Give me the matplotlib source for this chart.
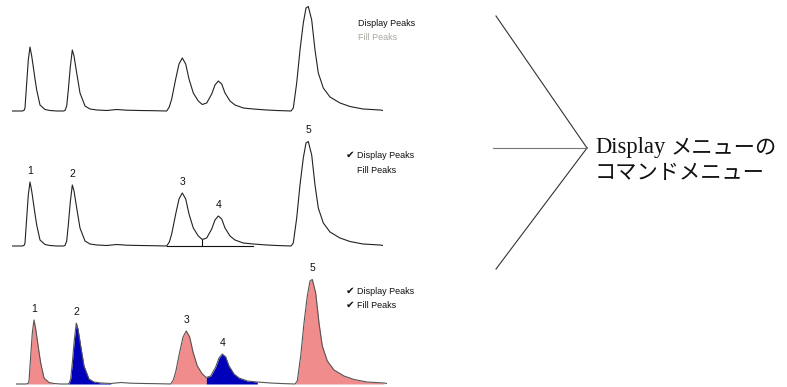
#!/usr/bin/env python3
"""
Chromatogram illustration: the three states of the Display menu
(no peaks, display peaks, display + fill peaks).
"""

import numpy as np
import matplotlib
matplotlib.use("Agg")
import matplotlib.pyplot as plt

# Trace (time in arbitrary units, signal in arbitrary units)
trace_time = [0.0, 1.0, 1.2, 1.3, 1.47, 1.63, 1.8, 1.97, 2.13, 2.3, 2.47, 2.8,
              3.3, 3.8, 4.47, 5.13, 5.3, 5.47, 5.63, 5.83, 6.03, 6.2, 6.47, 6.8,
              7.3, 7.8, 8.5, 9.47, 10.47, 11.47, 12.8, 14.13, 15.47, 15.73,
              15.97, 16.37, 16.7, 17.03, 17.37, 17.7, 18.13, 18.63, 19.03, 19.47,
              19.97, 20.3, 20.63, 20.97, 21.3, 21.8, 22.3, 23.13, 24.13, 25.47,
              26.47, 27.9, 28.13, 28.47, 28.8, 29.13, 29.4, 29.63, 29.97, 30.3,
              30.63, 31.13, 31.8, 32.8, 33.8, 35.1, 36.8, 37.13]
trace_signal = [0, 0, 0.5, 3, 28, 51, 64, 55, 44, 32, 21, 6,
                1.5, 0.5, 0, 0, 0.5, 5, 21, 44, 61, 55, 38, 18,
                5, 2, 1, 0.5, 1.5, 0.8, 0.5, 0.3, 0, 4,
                12, 32, 47, 53, 47, 32, 18, 10, 6.5, 8,
                17, 26, 30, 27, 18, 10, 6, 3, 2, 1,
                0.5, 0, 3, 28, 61, 88, 103, 104.5, 91, 61,
                38, 23, 14, 8, 4.5, 2, 1, 0.5]

# Peak table
peak_labels = ["1", "2", "3", "4", "5"]
peak_apex = [1.8, 6.03, 17.03, 20.63, 29.63]
peak_start = [1.0, 5.13, 15.47, 19.03, 27.9]
peak_end = [3.8, 9.47, 19.03, 24.13, 36.8]
peak_colors = ["#f08c8c", "#0000bb", "#f08c8c", "#0000bb", "#f08c8c"]
valley_time = 19.03

# Menu states for each panel: (display peaks checked, fill peaks checked)
menu_states = [(False, False), (True, False), (True, True)]

W, H = 787, 387
fig = plt.figure(figsize=(W / 100, H / 100), dpi=100)

t = np.array(trace_time)
s = np.array(trace_signal)


def px_axes(left, baseline, width=371, height=110):
    """Axes placed by pixel position, baseline = pixel row of signal 0"""
    bottom = baseline + 2
    ax = fig.add_axes([left / W, (H - bottom) / H, width / W, height / H])
    ax.set_xlim(0, 37.1)
    ax.set_ylim(-2, 108)
    ax.axis("off")
    return ax


# Panel layout (left px, baseline px, menu text y px, menu text x px)
panels = [(12, 111, (24, 38), 358),
          (12, 246, (155, 170), 357),
          (16, 384, (291, 305), 357)]

for i, (left, base, menu_y, menu_x) in enumerate(panels):
    ax = px_axes(left, base)
    show, fill = menu_states[i]
    line_color = "#555555" if fill else "#222222"

    if fill:
        for a, b, c in zip(peak_start, peak_end, peak_colors):
            m = (t >= a) & (t <= b)
            ax.fill_between(t[m], 0, s[m], color=c, linewidth=0)

    ax.plot(t, s, color=line_color, linewidth=0.8)

    if show:
        for lab, x0 in zip(peak_labels, peak_apex):
            y0 = s[np.argmin(np.abs(t - x0))]
            ax.annotate(lab, (x0, y0), xytext=(0, 4.5), textcoords="offset points",
                        ha="center", va="bottom", fontsize=7.5,
                        family="Liberation Sans", color="#111111")
    if show and not fill:
        yv = s[np.argmin(np.abs(t - valley_time))]
        ax.plot([valley_time, valley_time], [0, yv], color="#111111", linewidth=0.8)
        ax.plot([15.47, 24.13], [0, 0], color="#111111", linewidth=0.8)

    # menu items
    fig.text(menu_x / W, 1 - menu_y[0] / H, "Display Peaks", fontsize=6.5,
             family="Liberation Sans", va="center", color="#111111")
    fig.text(menu_x / W, 1 - menu_y[1] / H, "Fill Peaks", fontsize=6.5,
             family="Liberation Sans", va="center",
             color="#111111" if show else "#a8a8a0")
    if show:
        fig.text(346 / W, 1 - menu_y[0] / H, "\u2714", fontsize=7.5,
                 family="DejaVu Sans", va="center", color="#111111")
    if fill:
        fig.text(346 / W, 1 - menu_y[1] / H, "\u2714", fontsize=7.5,
                 family="DejaVu Sans", va="center", color="#111111")

# Bracket lines pointing to the caption
over = fig.add_axes([0, 0, 1, 1])
over.set_xlim(0, W)
over.set_ylim(H, 0)
over.axis("off")
tip = (587, 148)
over.plot([496, tip[0]], [16, tip[1]], color="#333333", linewidth=0.8)
over.plot([496, tip[0]], [269, tip[1]], color="#333333", linewidth=0.8)
over.plot([493, tip[0]], [148, tip[1]], color="#777777", linewidth=0.8)

# Caption
fig.text(595 / W, 1 - 147 / H, "Display", fontsize=16.3,
         family="Liberation Serif", va="center", color="#111111")
fig.text(671 / W, 1 - 147 / H, "メニューの", fontsize=15.3,
         family="Noto Sans CJK JP", va="center", color="#111111")
fig.text(595 / W, 1 - 173 / H, "コマンドメニュー", fontsize=15.3,
         family="Noto Sans CJK JP", va="center", color="#111111")

fig.savefig("out.png", dpi=100, facecolor="white")
